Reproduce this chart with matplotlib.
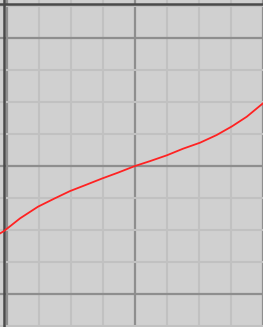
import matplotlib
matplotlib.use("Agg")
import matplotlib.pyplot as plt
from matplotlib.ticker import MultipleLocator

# curve samples (x, y in major grid units)
xs = [-1.06, -1.023, -0.898, -0.758, -0.625, -0.508, -0.377, -0.258, -0.133, 0.0,
      0.117, 0.25, 0.375, 0.508, 0.638, 0.758, 0.873, 1.0]
ys = [-0.53, -0.508, -0.409, -0.318, -0.252, -0.196, -0.145, -0.098, -0.052, 0.0,
      0.038, 0.084, 0.135, 0.182, 0.242, 0.31, 0.385, 0.49]

W, H = 263, 327
fig = plt.figure(figsize=(W / 100, H / 100), dpi=100)
ax = fig.add_axes([0, 0, 1, 1])
ax.set_facecolor('#d0d0d0')
fig.patch.set_facecolor('#d0d0d0')

ax.set_xlim(-135 / 128, 128 / 128)
ax.set_ylim(-161 / 128, 166 / 128)

ax.xaxis.set_major_locator(MultipleLocator(1))
ax.yaxis.set_major_locator(MultipleLocator(1))
ax.xaxis.set_minor_locator(MultipleLocator(0.25))
ax.yaxis.set_minor_locator(MultipleLocator(0.25))
ax.grid(which='minor', color='#c1c1c1', linewidth=1.5, zorder=0)
ax.grid(which='major', color='#8e8e8e', linewidth=1.6, zorder=1)
ax.set_axisbelow(True)
ax.tick_params(which='both', length=0, labelbottom=False, labelleft=False)
for s in ax.spines.values():
    s.set_visible(False)

# dark frame on the top and left edges
ax.axvline(-131 / 128, color='#4a4a4a', linewidth=1.8, zorder=2)
ax.axhline(162 / 128, color='#4a4a4a', linewidth=1.8, zorder=2)

ax.plot(xs, ys, color='#ff2222', linewidth=1.3, zorder=3)

fig.savefig('out.png', dpi=100, facecolor=fig.get_facecolor())
